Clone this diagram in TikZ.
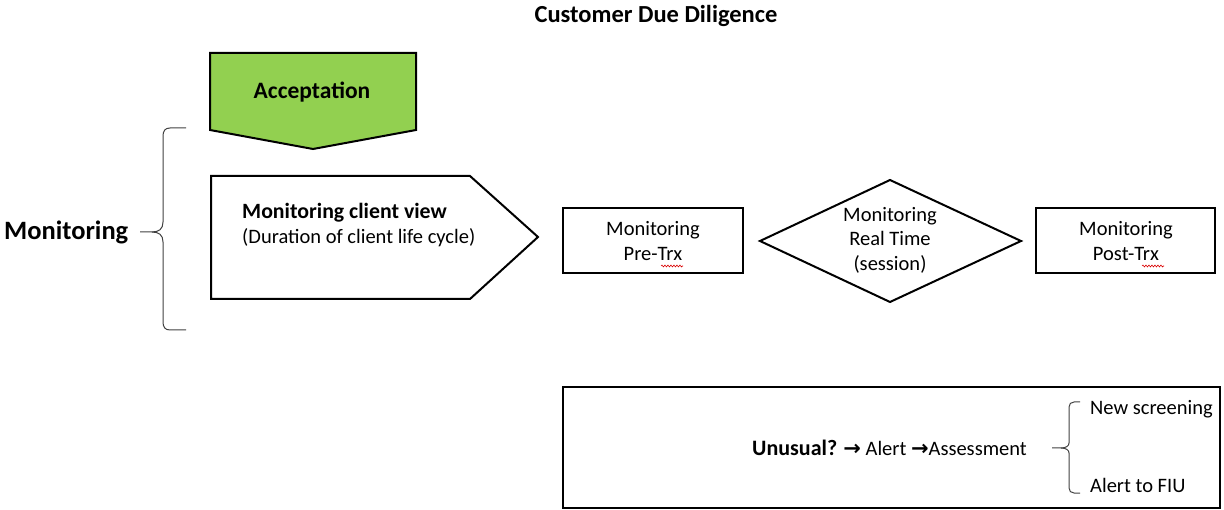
\documentclass[tikz,border=0pt]{standalone}
\usepackage{fontspec}
\setmainfont{Carlito}
\newfontfamily\symfont{DejaVu Sans}
\usetikzlibrary{decorations.pathmorphing}
\begin{document}
\begin{tikzpicture}[x=1pt,y=-1pt,
  outline/.style={draw=black,line width=2pt,line join=miter},
  brace/.style={draw=black!75,line width=1pt},
  txt/.style={font=\fontsize{20.5}{24.5}\selectfont,inner sep=0pt,align=center},
  bold/.style={txt,font=\fontsize{23.5}{26}\selectfont\bfseries},
  spell/.style={draw=red!85!black,line width=0.6pt,decorate,
    decoration={snake,amplitude=0.9pt,segment length=3pt}}]
\useasboundingbox (0,0) rectangle (1224,510);

% title
\node[bold,font=\fontsize{24.5}{28}\selectfont\bfseries] (title) at (656,16) {Customer Due Diligence};

% acceptance stage (downward pentagon)
\filldraw[outline,fill={rgb,255:red,146;green,208;blue,80}]
  (210,53) -- (416,53) -- (416,130) -- (313,149) -- (210,130) -- cycle;
\node[bold] (accept) at (312,92) {Acceptation};

% monitoring label with brace
\node[bold,font=\fontsize{26.5}{30}\selectfont\bfseries,anchor=west] (mon) at (4,232) {Monitoring};
\draw[brace] (186,128) -- (170,128) .. controls (165,128) and (163,131) .. (163,136)
  -- (163,222) .. controls (163,229) and (159,232) .. (152,232) -- (140,232);
\draw[brace] (152,232) .. controls (159,232) and (163,235) .. (163,242)
  -- (163,322) .. controls (163,327) and (165,330) .. (170,330) -- (186,330);

% client view (right-pointing pentagon)
\draw[outline] (211,176) -- (470,176) -- (538,237) -- (470,299) -- (211,299) -- cycle;
\node[txt,anchor=west,align=left] (client) at (242,225)
  {{\fontsize{21.8}{24.5}\selectfont\bfseries Monitoring client view}\\(Duration of client life cycle)};

% pre-transaction
\draw[outline] (563,208) rectangle (743,273);
\node[txt] (pre) at (653,241) {Monitoring\\Pre-Trx};
\draw[spell] (661,266) -- (683,266);

% real time
\draw[outline] (760,241) -- (890,180) -- (1021,241) -- (890,302) -- cycle;
\node[txt] (rt) at (890,240) {Monitoring\\Real Time\\(session)};

% post-transaction
\draw[outline] (1036,208) rectangle (1215,273);
\node[txt] (post) at (1126,241) {Monitoring\\Post-Trx};
\draw[spell] (1142,266) -- (1164,266);

% alert handling
\draw[draw=black,line width=1.2pt] (563,387) rectangle (1220,508);
\node[txt,anchor=west] (flow) at (752,448)
  {{\fontsize{22}{24}\selectfont\bfseries Unusual?} {\symfont\fontsize{21}{24}\selectfont\bfseries →} Alert {\symfont\fontsize{21}{24}\selectfont\bfseries →}Assessment};
\draw[brace] (1080,402) -- (1074,402) .. controls (1071,402) and (1069,404) .. (1069,407)
  -- (1069,443) .. controls (1069,446) and (1066,448) .. (1061,448) -- (1052,448);
\draw[brace] (1061,448) .. controls (1066,448) and (1069,450) .. (1069,453)
  -- (1069,488) .. controls (1069,491) and (1071,493) .. (1074,493) -- (1080,493);
\node[txt,anchor=west] (screen) at (1090,409) {New screening};
\node[txt,anchor=west] (fiu) at (1090,485) {Alert to FIU};
\end{tikzpicture}
\end{document}
